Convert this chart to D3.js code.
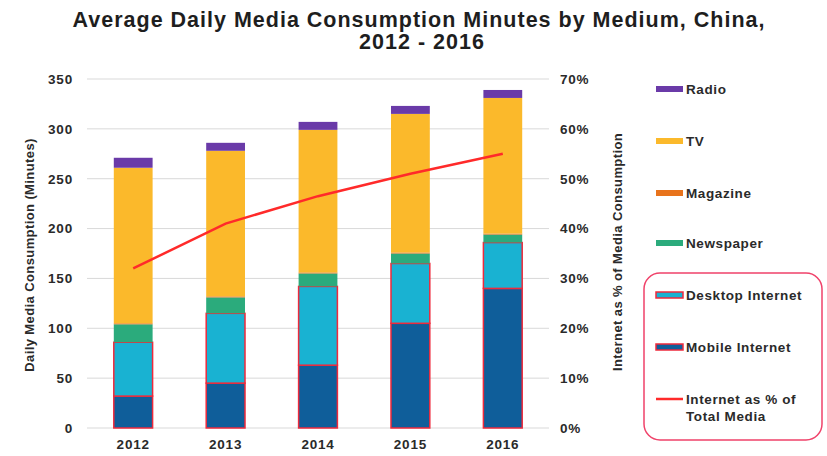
<!DOCTYPE html>
<html>
<head>
<meta charset="utf-8">
<script src="https://cdn.jsdelivr.net/npm/d3@7"></script>
<style>
  html, body { margin: 0; padding: 0; background: #fff; }
  svg { display: block; font-family: "Liberation Sans", Arial, sans-serif; }
</style>
</head>
<body>
<svg id="chart" width="827" height="456"></svg>
<script>
// Years on the x axis
const years = ["2012", "2013", "2014", "2015", "2016"];
// Minutes per day by medium, stacked bottom to top
const mobileInternet = [32, 45, 63, 105, 140];
const desktopInternet = [54, 70, 79, 60, 46];
const newspaper = [18, 16, 13, 10, 8];
const magazine = [1, 1, 1, 1, 1];
const tv = [156, 146, 143, 139, 136];
const radio = [10, 8, 8, 8, 8];
// Internet share of total media time (%)
const internetShare = [32, 41, 46.5, 51, 55];
// Axis ticks
const leftTicks = [0, 50, 100, 150, 200, 250, 300, 350];
const rightTicks = [0, 10, 20, 30, 40, 50, 60, 70];

const series = [
  { key: "Mobile Internet", values: mobileInternet, color: "#0f5e9a", outline: true },
  { key: "Desktop Internet", values: desktopInternet, color: "#19b2d2", outline: true },
  { key: "Newspaper", values: newspaper, color: "#2bab7c", outline: false },
  { key: "Magazine", values: magazine, color: "#e8731c", outline: false },
  { key: "TV", values: tv, color: "#fbb92b", outline: false },
  { key: "Radio", values: radio, color: "#6a3aa8", outline: false }
];
const outlineColor = "#ee2a3c";
const lineColor = "#ff2a2a";
const textColor = "#2a2a2a";

const svg = d3.select("#chart");
const m = { left: 87, right: 549, top: 79, bottom: 428 };

const x = d3.scaleBand().domain(years).range([m.left, m.right]).paddingInner(0.58).paddingOuter(0.29);
const y = d3.scaleLinear().domain([0, 350]).range([m.bottom, m.top]);
const yR = d3.scaleLinear().domain([0, 70]).range([m.bottom, m.top]);

function styleTicks(g) {
  g.select(".domain").remove();
  g.selectAll("text").attr("font-size", 13.5).attr("font-weight", "bold").attr("fill", textColor)
    .attr("letter-spacing", 0.8)
    .attr("font-family", "Liberation Sans, Arial, sans-serif");
}

// Horizontal gridlines
svg.append("g").selectAll("line").data(leftTicks).join("line")
  .attr("x1", m.left).attr("x2", m.right)
  .attr("y1", d => y(d)).attr("y2", d => y(d))
  .attr("stroke", "#d9d9d9").attr("stroke-width", 1);

// Left axis
svg.append("g").attr("transform", `translate(${m.left},0)`)
  .call(d3.axisLeft(y).tickValues(leftTicks).tickSize(0).tickPadding(14))
  .call(styleTicks);

// Right axis
svg.append("g").attr("transform", `translate(${m.right},0)`)
  .call(d3.axisRight(yR).tickValues(rightTicks).tickSize(0).tickPadding(11).tickFormat(d => d + "%"))
  .call(styleTicks);

// Bottom axis
svg.append("g").attr("transform", `translate(0,${m.bottom})`)
  .call(d3.axisBottom(x).tickSize(0).tickPadding(11))
  .call(styleTicks);

// Stacked bars
const rows = years.map((yr, i) => {
  const r = { year: yr };
  series.forEach(s => r[s.key] = s.values[i]);
  return r;
});
const stack = d3.stack().keys(series.map(s => s.key))(rows);
stack.forEach((layer, li) => {
  const s = series[li];
  svg.append("g").selectAll("rect").data(layer).join("rect")
    .attr("x", d => x(d.data.year))
    .attr("width", x.bandwidth())
    .attr("y", d => y(d[1]))
    .attr("height", d => y(d[0]) - y(d[1]))
    .attr("fill", s.color)
    .attr("stroke", s.outline ? outlineColor : "none")
    .attr("stroke-width", s.outline ? 1.5 : 0);
});

// Internet share line
const line = d3.line()
  .x((d, i) => x(years[i]) + x.bandwidth() / 2)
  .y(d => yR(d));
svg.append("path").datum(internetShare)
  .attr("d", line).attr("fill", "none")
  .attr("stroke", lineColor).attr("stroke-width", 2.5);

// Axis titles
svg.append("text")
  .attr("transform", `translate(34,255) rotate(-90)`)
  .attr("text-anchor", "middle").attr("font-size", 13).attr("font-weight", "bold")
  .attr("letter-spacing", 0.4).attr("fill", textColor)
  .text("Daily Media Consumption (Minutes)");
svg.append("text")
  .attr("transform", `translate(622,252) rotate(-90)`)
  .attr("text-anchor", "middle").attr("font-size", 13).attr("font-weight", "bold")
  .attr("letter-spacing", 0.4).attr("fill", textColor)
  .text("Internet as % of Media Consumption");

// Title
const title = svg.append("text").attr("text-anchor", "middle").attr("font-size", 21.5)
  .attr("font-weight", "bold").attr("letter-spacing", 1).attr("fill", "#1e1e1e");
title.append("tspan").attr("x", 419).attr("y", 27).text("Average Daily Media Consumption Minutes by Medium, China,");
title.append("tspan").attr("x", 422).attr("y", 49).text("2012 - 2016");

// Legend
const legendItems = ["Radio", "TV", "Magazine", "Newspaper", "Desktop Internet", "Mobile Internet"];
const legendY = [89, 141, 193, 243, 295, 347];
const lg = svg.append("g");
svg.append("rect").attr("x", 644).attr("y", 273).attr("width", 178).attr("height", 167)
  .attr("rx", 16).attr("fill", "none").attr("stroke", "#f0426a").attr("stroke-width", 1.5);
legendItems.forEach((name, i) => {
  const s = series.find(d => d.key === name);
  lg.append("rect").attr("x", 656).attr("y", legendY[i] - 3).attr("width", 27).attr("height", 6)
    .attr("fill", s.color)
    .attr("stroke", s.outline ? outlineColor : "none").attr("stroke-width", s.outline ? 1.5 : 0);
  lg.append("text").attr("x", 686).attr("y", legendY[i] + 5).attr("font-size", 13.5)
    .attr("font-weight", "bold").attr("letter-spacing", 0.6).attr("fill", textColor).text(name);
});
lg.append("line").attr("x1", 656).attr("x2", 683).attr("y1", 399).attr("y2", 399)
  .attr("stroke", lineColor).attr("stroke-width", 2.5);
const lt = lg.append("text").attr("font-size", 13.5).attr("font-weight", "bold")
  .attr("letter-spacing", 0.6).attr("fill", textColor);
lt.append("tspan").attr("x", 686).attr("y", 404).text("Internet as % of");
lt.append("tspan").attr("x", 686).attr("y", 421).text("Total Media");
</script>
</body>
</html>
